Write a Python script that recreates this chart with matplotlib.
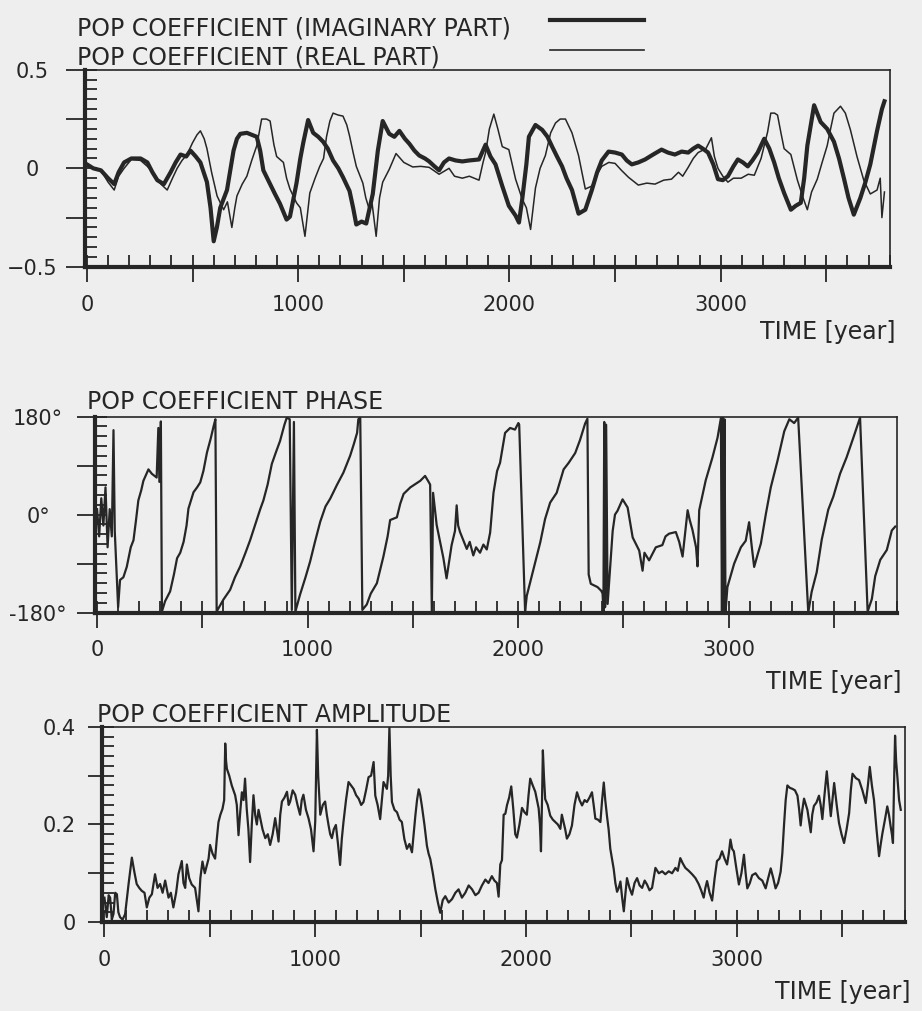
import matplotlib.pyplot as plt
from matplotlib.lines import Line2D
from matplotlib.ticker import MultipleLocator

plt.rcParams['font.family'] = ['DejaVu Sans']
INK = '#262626'
PAPER = '#eeeeee'

# POP coefficient, imaginary part (thick line)
imag_years = [0, 30, 66, 100, 129, 150, 176, 210, 254, 286,
              310, 333, 364, 396, 420, 443, 470, 490, 515, 537,
              568, 585, 600, 615, 631, 663, 694, 710, 726, 757,
              780, 804, 820, 835, 867, 890, 914, 945, 961, 992,
              1010, 1024, 1047, 1071, 1095, 1118, 1140, 1165, 1190, 1212,
              1243, 1260, 1275, 1300, 1322, 1353, 1377, 1400, 1431, 1455,
              1479, 1505, 1526, 1550, 1573, 1600, 1620, 1645, 1667, 1690,
              1714, 1745, 1777, 1810, 1856, 1887, 1910, 1934, 1966, 1997,
              2029, 2045, 2060, 2080, 2092, 2123, 2155, 2180, 2202, 2225,
              2249, 2270, 2296, 2327, 2359, 2390, 2415, 2437, 2469, 2500,
              2532, 2555, 2579, 2610, 2642, 2680, 2720, 2750, 2783, 2815,
              2846, 2870, 2893, 2915, 2940, 2965, 2987, 3010, 3034, 3060,
              3081, 3105, 3128, 3150, 3175, 3206, 3230, 3253, 3275, 3300,
              3332, 3355, 3379, 3395, 3410, 3442, 3473, 3504, 3536, 3560,
              3583, 3605, 3630, 3661, 3685, 3708, 3740, 3763, 3775]
imag_vals = [0.02, 0.0, -0.01, -0.05, -0.08, -0.02, 0.03, 0.05, 0.05, 0.03,
             -0.02, -0.06, -0.08, -0.02, 0.03, 0.07, 0.06, 0.09, 0.06, 0.03,
             -0.07, -0.2, -0.37, -0.3, -0.2, -0.11, 0.09, 0.15, 0.175, 0.18,
             0.17, 0.16, 0.09, -0.01, -0.08, -0.13, -0.18, -0.26, -0.245, -0.075,
             0.05, 0.13, 0.245, 0.18, 0.16, 0.135, 0.1, 0.04, 0.0, -0.045,
             -0.115, -0.2, -0.285, -0.27, -0.28, -0.13, 0.09, 0.24, 0.175, 0.16,
             0.19, 0.15, 0.125, 0.09, 0.065, 0.05, 0.035, 0.01, -0.01, 0.03,
             0.05, 0.04, 0.035, 0.04, 0.045, 0.12, 0.06, 0.02, -0.09, -0.19,
             -0.24, -0.275, -0.16, 0.02, 0.16, 0.22, 0.195, 0.16, 0.11, 0.06,
             0.01, -0.05, -0.11, -0.23, -0.21, -0.11, -0.02, 0.04, 0.085, 0.08,
             0.07, 0.04, 0.02, 0.03, 0.045, 0.07, 0.095, 0.08, 0.07, 0.085,
             0.08, 0.1, 0.115, 0.1, 0.08, 0.02, -0.055, -0.06, -0.04, 0.01,
             0.045, 0.03, 0.01, 0.04, 0.08, 0.15, 0.1, 0.03, -0.05, -0.125,
             -0.21, -0.19, -0.175, -0.05, 0.115, 0.32, 0.235, 0.2, 0.135, 0.05,
             -0.05, -0.15, -0.235, -0.15, -0.07, 0.02, 0.19, 0.3, 0.34]

# POP coefficient, real part (thin line)
real_years = [0, 30, 66, 100, 129, 150, 176, 210, 254, 286,
              317, 350, 380, 405, 427, 450, 474, 500, 521, 537,
              555, 568, 590, 616, 647, 665, 686, 700, 710, 735,
              757, 780, 804, 827, 850, 867, 885, 898, 930, 945,
              961, 992, 1010, 1032, 1055, 1080, 1102, 1120, 1134, 1150,
              1165, 1190, 1212, 1230, 1243, 1260, 1275, 1306, 1320, 1337,
              1350, 1369, 1385, 1400, 1431, 1463, 1500, 1542, 1580, 1620,
              1667, 1714, 1740, 1777, 1810, 1856, 1875, 1887, 1905, 1926,
              1945, 1966, 1997, 2029, 2060, 2080, 2100, 2123, 2145, 2170,
              2195, 2218, 2240, 2265, 2296, 2327, 2359, 2390, 2415, 2437,
              2470, 2500, 2530, 2563, 2610, 2650, 2689, 2730, 2767, 2800,
              2820, 2846, 2870, 2893, 2930, 2956, 2970, 2987, 3010, 3034,
              3060, 3097, 3130, 3159, 3191, 3222, 3237, 3255, 3269, 3285,
              3300, 3332, 3363, 3390, 3410, 3430, 3457, 3480, 3504, 3520,
              3536, 3567, 3590, 3614, 3645, 3677, 3708, 3740, 3755, 3763, 3775]
real_vals = [0.02, 0.0, -0.01, -0.07, -0.11, -0.04, 0.0, 0.045, 0.04, 0.01,
             -0.025, -0.08, -0.11, -0.05, 0.0, 0.04, 0.07, 0.13, 0.17, 0.19,
             0.15, 0.1, -0.02, -0.14, -0.21, -0.17, -0.3, -0.2, -0.14, -0.08,
             -0.04, 0.04, 0.115, 0.25, 0.25, 0.24, 0.12, 0.06, 0.03, -0.05,
             -0.105, -0.175, -0.2, -0.345, -0.125, -0.05, 0.01, 0.05, 0.16, 0.24,
             0.28, 0.27, 0.265, 0.22, 0.165, 0.08, 0.01, -0.075, -0.15, -0.21,
             -0.18, -0.345, -0.15, -0.07, -0.005, 0.075, 0.03, 0.007, 0.01, 0.005,
             -0.03, 0.0, -0.04, -0.05, -0.04, -0.06, 0.03, 0.08, 0.2, 0.275,
             0.2, 0.11, 0.095, -0.055, -0.155, -0.2, -0.31, -0.1, 0.0, 0.065,
             0.18, 0.23, 0.25, 0.25, 0.18, 0.065, -0.105, -0.09, -0.03, 0.01,
             0.03, 0.025, -0.01, -0.045, -0.085, -0.075, -0.08, -0.06, -0.055, -0.02,
             -0.04, 0.005, 0.05, 0.08, 0.1, 0.155, 0.06, 0.0, -0.04, -0.07,
             -0.05, -0.05, -0.03, -0.035, 0.05, 0.185, 0.28, 0.28, 0.27, 0.18,
             0.1, 0.07, -0.06, -0.15, -0.21, -0.12, -0.055, 0.03, 0.115, 0.2,
             0.28, 0.315, 0.28, 0.195, 0.06, -0.06, -0.13, -0.11, -0.05, -0.25, -0.12]

# POP coefficient phase (degrees)
phase_years = [0, 10, 20, 30, 40, 50, 60, 70, 78, 84,
               92, 100, 109, 125, 141, 160, 173, 185, 196, 210,
               220, 244, 260, 283, 291, 296, 303, 308, 323, 347,
               365, 380, 395, 411, 425, 434, 458, 475, 490, 505,
               522, 540, 554, 562, 568, 600, 632, 655, 680, 705,
               727, 758, 775, 790, 810, 830, 850, 869, 890, 901,
               915, 925, 935, 942, 964, 990, 1012, 1035, 1060, 1085,
               1107, 1140, 1170, 1202, 1220, 1235, 1241, 1250, 1260, 1281,
               1300, 1329, 1360, 1380, 1392, 1424, 1440, 1456, 1488, 1535,
               1558, 1575, 1582, 1590, 1596, 1613, 1645, 1660, 1684, 1700,
               1708, 1715, 1724, 1756, 1770, 1787, 1800, 1819, 1835, 1851,
               1867, 1883, 1900, 1914, 1938, 1962, 1985, 2001, 2005, 2033,
               2041, 2073, 2105, 2128, 2152, 2183, 2216, 2240, 2271, 2294,
               2318, 2329, 2335, 2345, 2377, 2395, 2401, 2405, 2409, 2413,
               2418, 2425, 2440, 2449, 2460, 2472, 2496, 2520, 2544, 2575,
               2591, 2600, 2622, 2654, 2685, 2700, 2717, 2749, 2765, 2781,
               2805, 2815, 2828, 2845, 2852, 2860, 2891, 2923, 2947, 2963,
               2968, 2972, 2976, 2980, 2985, 2994, 3026, 3058, 3081, 3097,
               3110, 3121, 3140, 3153, 3177, 3200, 3232, 3264, 3288, 3311,
               3330, 3378, 3394, 3418, 3442, 3473, 3497, 3529, 3560, 3592,
               3624, 3660, 3680, 3696, 3720, 3751, 3775, 3791]
phase_deg = [10, -40, 30, -20, 50, -60, 10, -40, 155, -30,
             -100, -170, -120, -115, -96, -60, -47, -10, 26, 45,
             62, 83, 75, 68, 159, 60, 171, -178, -159, -141,
             -110, -80, -70, -50, -20, 11, 41, 50, 59, 80,
             114, 140, 163, 175, -178, -156, -138, -115, -95, -70,
             -47, -10, 10, 26, 55, 93, 115, 135, 165, 178,
             175, -175, 170, -178, -147, -115, -86, -50, -13, 15,
             29, 55, 77, 108, 130, 150, 175, 178, -175, -165,
             -145, -126, -77, -40, -10, -5, 20, 38, 50, 62,
             71, 60, 55, -178, 40, -19, -80, -117, -56, -30,
             17, -20, -32, -63, -50, -75, -60, -70, -55, -64,
             -33, 40, 80, 95, 150, 159, 156, 168, 165, -178,
             -149, -100, -51, -8, 22, 40, 83, 95, 113, 137,
             167, 176, -110, -127, -133, -140, -145, -178, 170, -170,
             165, -164, -80, -30, 0, 7, 28, 13, -42, -66,
             -103, -70, -84, -60, -56, -40, -35, -32, -50, -77,
             8, -10, -28, -60, -95, 8, 63, 105, 141, 177,
             -178, 178, -175, 175, -178, -133, -90, -60, -48, -14,
             -60, -96, -70, -53, 2, 50, 99, 153, 175, 168,
             178, -180, -142, -106, -46, 9, 33, 75, 105, 141,
             178, -178, -155, -113, -83, -65, -29, -22]

# POP coefficient amplitude
amp_years = [0, 11, 20, 27, 35, 43, 51, 59, 66, 74,
             86, 98, 115, 130, 143, 153, 165, 177, 190, 201,
             213, 225, 240, 252, 264, 276, 288, 304, 315, 327,
             340, 351, 367, 375, 383, 391, 402, 414, 430, 446,
             455, 465, 476, 486, 494, 501, 513, 525, 533, 541,
             550, 560, 568, 573, 577, 581, 592, 604, 612, 620,
             628, 636, 645, 652, 660, 667, 675, 683, 691, 699,
             707, 715, 723, 731, 739, 750, 763, 775, 786, 798,
             810, 818, 826, 834, 842, 854, 866, 874, 881, 893,
             905, 916, 928, 936, 944, 956, 968, 980, 992, 1000,
             1004, 1008, 1014, 1024, 1036, 1047, 1055, 1063, 1071, 1079,
             1088, 1098, 1108, 1118, 1126, 1134, 1146, 1158, 1170, 1182,
             1194, 1206, 1218, 1229, 1241, 1253, 1265, 1277, 1285, 1296,
             1308, 1316, 1324, 1332, 1340, 1346, 1352, 1358, 1364, 1376,
             1388, 1400, 1411, 1423, 1435, 1447, 1459, 1467, 1475, 1483,
             1491, 1498, 1506, 1518, 1530, 1538, 1546, 1558, 1570, 1582,
             1593, 1605, 1617, 1633, 1649, 1665, 1680, 1696, 1712, 1728,
             1744, 1760, 1775, 1791, 1807, 1822, 1838, 1850, 1862, 1870,
             1878, 1886, 1894, 1902, 1910, 1920, 1930, 1940, 1949, 1957,
             1969, 1981, 1993, 2004, 2012, 2020, 2032, 2044, 2052, 2060,
             2066, 2071, 2076, 2080, 2085, 2091, 2103, 2115, 2127, 2139,
             2151, 2163, 2170, 2178, 2186, 2194, 2206, 2218, 2230, 2242,
             2254, 2266, 2278, 2289, 2301, 2313, 2321, 2329, 2341, 2353,
             2361, 2369, 2376, 2384, 2392, 2400, 2408, 2416, 2424, 2432,
             2440, 2448, 2456, 2464, 2472, 2479, 2491, 2503, 2515, 2527,
             2539, 2551, 2563, 2574, 2586, 2598, 2606, 2614, 2630, 2646,
             2661, 2677, 2693, 2709, 2720, 2732, 2744, 2756, 2772, 2788,
             2804, 2819, 2831, 2843, 2851, 2859, 2871, 2883, 2895, 2906,
             2918, 2930, 2942, 2954, 2962, 2970, 2978, 2986, 2998, 3010,
             3022, 3034, 3042, 3050, 3062, 3073, 3089, 3105, 3121, 3137,
             3149, 3161, 3173, 3184, 3196, 3208, 3216, 3224, 3232, 3240,
             3252, 3264, 3276, 3288, 3296, 3303, 3311, 3319, 3335, 3351,
             3358, 3366, 3378, 3390, 3398, 3406, 3416, 3427, 3437, 3446,
             3454, 3462, 3474, 3485, 3497, 3509, 3521, 3533, 3541, 3549,
             3565, 3580, 3596, 3612, 3622, 3631, 3641, 3651, 3663, 3675,
             3683, 3691, 3703, 3714, 3722, 3730, 3736, 3741, 3746, 3751,
             3756, 3762, 3770, 3778]
amp_vals = [0.05, 0.01, 0.055, 0.05, 0.005, 0.017, 0.06, 0.057, 0.02, 0.01,
            0.005, 0.016, 0.08, 0.132, 0.1, 0.078, 0.07, 0.064, 0.06, 0.03,
            0.05, 0.057, 0.098, 0.07, 0.078, 0.06, 0.085, 0.05, 0.06, 0.03,
            0.06, 0.098, 0.125, 0.08, 0.07, 0.118, 0.09, 0.077, 0.07, 0.022,
            0.09, 0.124, 0.1, 0.117, 0.13, 0.158, 0.14, 0.13, 0.17, 0.205,
            0.22, 0.232, 0.25, 0.366, 0.33, 0.314, 0.3, 0.28, 0.27, 0.26,
            0.24, 0.178, 0.23, 0.266, 0.25, 0.294, 0.232, 0.19, 0.123, 0.2,
            0.26, 0.22, 0.2, 0.23, 0.213, 0.19, 0.172, 0.18, 0.158, 0.18,
            0.213, 0.19, 0.165, 0.22, 0.247, 0.255, 0.267, 0.24, 0.247, 0.27,
            0.261, 0.24, 0.22, 0.25, 0.261, 0.23, 0.213, 0.19, 0.145, 0.206,
            0.3, 0.394, 0.3, 0.22, 0.24, 0.247, 0.22, 0.199, 0.18, 0.172,
            0.19, 0.199, 0.16, 0.117, 0.17, 0.205, 0.25, 0.287, 0.28, 0.273,
            0.26, 0.253, 0.24, 0.246, 0.27, 0.297, 0.3, 0.328, 0.259, 0.24,
            0.211, 0.25, 0.287, 0.28, 0.273, 0.3, 0.4, 0.3, 0.246, 0.23,
            0.225, 0.21, 0.205, 0.17, 0.15, 0.16, 0.143, 0.18, 0.218, 0.25,
            0.272, 0.26, 0.238, 0.2, 0.156, 0.14, 0.129, 0.1, 0.067, 0.04,
            0.019, 0.045, 0.053, 0.04, 0.047, 0.06, 0.067, 0.05, 0.06, 0.075,
            0.067, 0.055, 0.06, 0.075, 0.087, 0.08, 0.094, 0.085, 0.08, 0.052,
            0.118, 0.127, 0.22, 0.222, 0.24, 0.255, 0.278, 0.23, 0.18, 0.173,
            0.2, 0.234, 0.225, 0.22, 0.26, 0.294, 0.28, 0.267, 0.25, 0.233,
            0.2, 0.145, 0.25, 0.352, 0.3, 0.252, 0.24, 0.218, 0.21, 0.205,
            0.2, 0.191, 0.22, 0.205, 0.19, 0.171, 0.18, 0.198, 0.24, 0.266,
            0.25, 0.239, 0.25, 0.246, 0.255, 0.266, 0.24, 0.212, 0.21, 0.205,
            0.25, 0.286, 0.25, 0.218, 0.19, 0.15, 0.13, 0.109, 0.08, 0.062,
            0.07, 0.083, 0.05, 0.022, 0.06, 0.09, 0.07, 0.056, 0.08, 0.09,
            0.075, 0.07, 0.085, 0.077, 0.065, 0.07, 0.09, 0.111, 0.1, 0.104,
            0.098, 0.104, 0.1, 0.111, 0.105, 0.131, 0.12, 0.111, 0.105, 0.098,
            0.09, 0.078, 0.065, 0.05, 0.07, 0.084, 0.06, 0.044, 0.09, 0.125,
            0.13, 0.145, 0.13, 0.118, 0.14, 0.169, 0.15, 0.145, 0.11, 0.077,
            0.1, 0.138, 0.1, 0.069, 0.08, 0.096, 0.1, 0.09, 0.085, 0.069,
            0.09, 0.11, 0.09, 0.069, 0.08, 0.103, 0.14, 0.198, 0.25, 0.28,
            0.275, 0.273, 0.27, 0.259, 0.23, 0.198, 0.23, 0.253, 0.23, 0.184,
            0.22, 0.238, 0.245, 0.259, 0.24, 0.211, 0.26, 0.309, 0.26, 0.217,
            0.25, 0.285, 0.24, 0.203, 0.18, 0.162, 0.19, 0.223, 0.27, 0.304,
            0.295, 0.291, 0.27, 0.244, 0.28, 0.318, 0.28, 0.25, 0.19, 0.135,
            0.16, 0.182, 0.21, 0.237, 0.22, 0.196, 0.18, 0.162, 0.28, 0.382,
            0.33, 0.297, 0.25, 0.23]

x_ticks = [0, 500, 1000, 1500, 2000, 2500, 3000, 3500]
x_labels = ['0', '', '1000', '', '2000', '', '3000', '']


def frame(ax, lo, hi, yticks, ylabels, ystep, ytick_len, ypad, yha):
    ax.set_facecolor(PAPER)
    ax.set_xlim(-10, 3800)
    ax.set_ylim(lo, hi)
    ax.set_xticks(x_ticks)
    ax.set_xticklabels(x_labels)
    ax.xaxis.set_minor_locator(MultipleLocator(100))
    ax.set_yticks(yticks)
    ax.set_yticklabels(ylabels)
    ax.yaxis.set_minor_locator(MultipleLocator(ystep))
    ax.xaxis.remove_overlapping_locs = False
    ax.yaxis.remove_overlapping_locs = False
    ax.tick_params(axis='x', which='major', direction='out', length=11, width=1.3,
                   color=INK, labelcolor=INK, labelsize=15, pad=9)
    ax.tick_params(axis='y', which='major', direction='out', length=ytick_len, width=1.3,
                   color=INK, labelcolor=INK, labelsize=15, pad=ypad)
    ax.tick_params(which='minor', direction='in', length=8.5, width=1.3, color=INK)
    for lab in ax.get_yticklabels():
        lab.set_horizontalalignment(yha)
    for side in ['left', 'bottom']:
        ax.spines[side].set_linewidth(3)
        ax.spines[side].set_color(INK)
    for side in ['top', 'right']:
        ax.spines[side].set_linewidth(1.2)
        ax.spines[side].set_color(INK)


fig = plt.figure(figsize=(9.22, 10.11), dpi=100, facecolor=PAPER)

ax1 = fig.add_axes([0.092, 0.736, 0.873, 0.195])
ax1.plot(real_years, real_vals, color=INK, lw=1.1)
ax1.plot(imag_years, imag_vals, color=INK, lw=3)
frame(ax1, -0.5, 0.5, [-0.5, -0.25, 0, 0.25, 0.5], ['\u22120.5', '', '0', '', '0.5'],
      0.05, 14, 24, 'center')

ax2 = fig.add_axes([0.103, 0.394, 0.870, 0.194])
ax2.plot(phase_years, phase_deg, color=INK, lw=1.6)
frame(ax2, -180, 180, [-180, -90, 0, 90, 180], ['-180°', '', '0°', '', '180°'],
      18, 13, 28, 'center')

ax3 = fig.add_axes([0.111, 0.088, 0.871, 0.193])
ax3.plot(amp_years, amp_vals, color=INK, lw=1.6)
frame(ax3, 0, 0.4, [0, 0.1, 0.2, 0.3, 0.4], ['0', '', '0.2', '', '0.4'],
      0.02, 10, 9, 'right')

txt = dict(fontsize=17, color=INK)
fig.text(0.0835, 0.972, 'POP COEFFICIENT (IMAGINARY PART)', va='center', **txt)
fig.text(0.0835, 0.943, 'POP COEFFICIENT (REAL PART)', va='center', **txt)
fig.add_artist(Line2D([0.597, 0.698], [0.980, 0.980], transform=fig.transFigure, lw=3, color=INK))
fig.add_artist(Line2D([0.597, 0.698], [0.951, 0.951], transform=fig.transFigure, lw=1.2, color=INK))

fig.text(0.094, 0.602, 'POP COEFFICIENT PHASE', va='center', **txt)
fig.text(0.105, 0.293, 'POP COEFFICIENT AMPLITUDE', va='center', **txt)

fig.text(0.971, 0.672, 'TIME [year]', ha='right', va='center', **txt)
fig.text(0.978, 0.325, 'TIME [year]', ha='right', va='center', **txt)
fig.text(0.987, 0.019, 'TIME [year]', ha='right', va='center', **txt)

fig.savefig('out.png', dpi=100, facecolor=PAPER)
